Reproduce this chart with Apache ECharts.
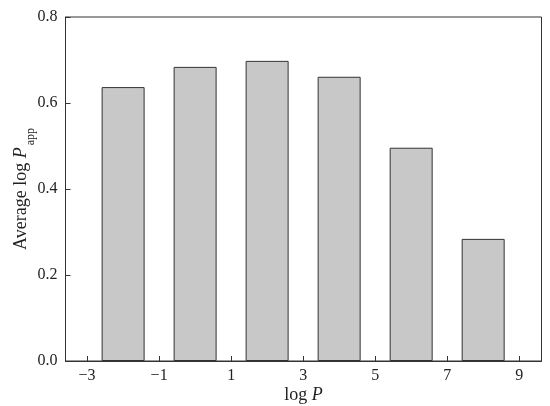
<!DOCTYPE html>
<html>
<head>
<meta charset="utf-8">
<script src="https://cdn.jsdelivr.net/npm/echarts@6/dist/echarts.min.js"></script>
<style>html,body{margin:0;padding:0;background:#fff;}#c{width:550px;height:406px;}</style>
</head>
<body>
<div id="c"></div>
<script>
var logP = [-2, 0, 2, 4, 6, 8];
var avgLogPapp = [0.637, 0.684, 0.698, 0.661, 0.496, 0.284];
var xTicks = [-3, -1, 1, 3, 5, 7, 9];
var yTicks = [0.0, 0.2, 0.4, 0.6, 0.8];

var chart = echarts.init(document.getElementById('c'));
var font = "'Liberation Serif', serif";
chart.setOption({
  animation: false,
  backgroundColor: '#ffffff',
  grid: { left: 65.5, right: 8.5, top: 17, bottom: 45, show: true, borderColor: '#333', borderWidth: 1,
    containLabel: false, outerBoundsMode: 'none' },
  xAxis: {
    type: 'value', min: -3.6, max: 9.62,
    axisLine: { show: true, onZero: false, lineStyle: { color: '#333', width: 1 } },
    axisTick: { show: true, inside: true, length: 5, customValues: xTicks, lineStyle: { color: '#333' } },
    axisLabel: { customValues: xTicks, color: '#222', fontFamily: font, fontSize: 16, margin: 7,
      formatter: function (v) { return v < 0 ? '\u2212' + Math.abs(v) : String(v); } },
    splitLine: { show: false },
    name: 'log {i|P}', nameLocation: 'middle', nameGap: 25, nameMoveOverlap: false,
    nameTextStyle: { color: '#222', fontFamily: font, fontSize: 18,
      rich: { i: { fontStyle: 'italic', fontFamily: font, fontSize: 18, color: '#222' } } }
  },
  yAxis: {
    type: 'value', min: 0, max: 0.8, interval: 0.2,
    axisLine: { show: true, onZero: false, lineStyle: { color: '#333', width: 1 } },
    axisTick: { show: true, inside: true, length: 5, lineStyle: { color: '#333' } },
    axisLabel: { color: '#222', fontFamily: font, fontSize: 16, margin: 8,
      formatter: function (v) { return v.toFixed(1); } },
    splitLine: { show: false },
    name: 'Average log {i|P}{s|app}', nameLocation: 'middle', nameGap: 29, nameRotate: 90, nameMoveOverlap: false,
    nameTextStyle: { color: '#222', fontFamily: font, fontSize: 18, lineHeight: 30,
      rich: {
        i: { fontStyle: 'italic', fontFamily: font, fontSize: 18, lineHeight: 30, color: '#222' },
        s: { fontFamily: font, fontSize: 12, lineHeight: 28, color: '#222', verticalAlign: 'bottom', padding: [0, 0, 0, 2] }
      } }
  },
  series: [{
    type: 'bar',
    data: logP.map(function (x, i) { return [x, avgLogPapp[i]]; }),
    barWidth: 43,
    itemStyle: { color: '#c8c8c8', borderColor: '#333', borderWidth: 1 }
  }]
});
</script>
</body>
</html>
